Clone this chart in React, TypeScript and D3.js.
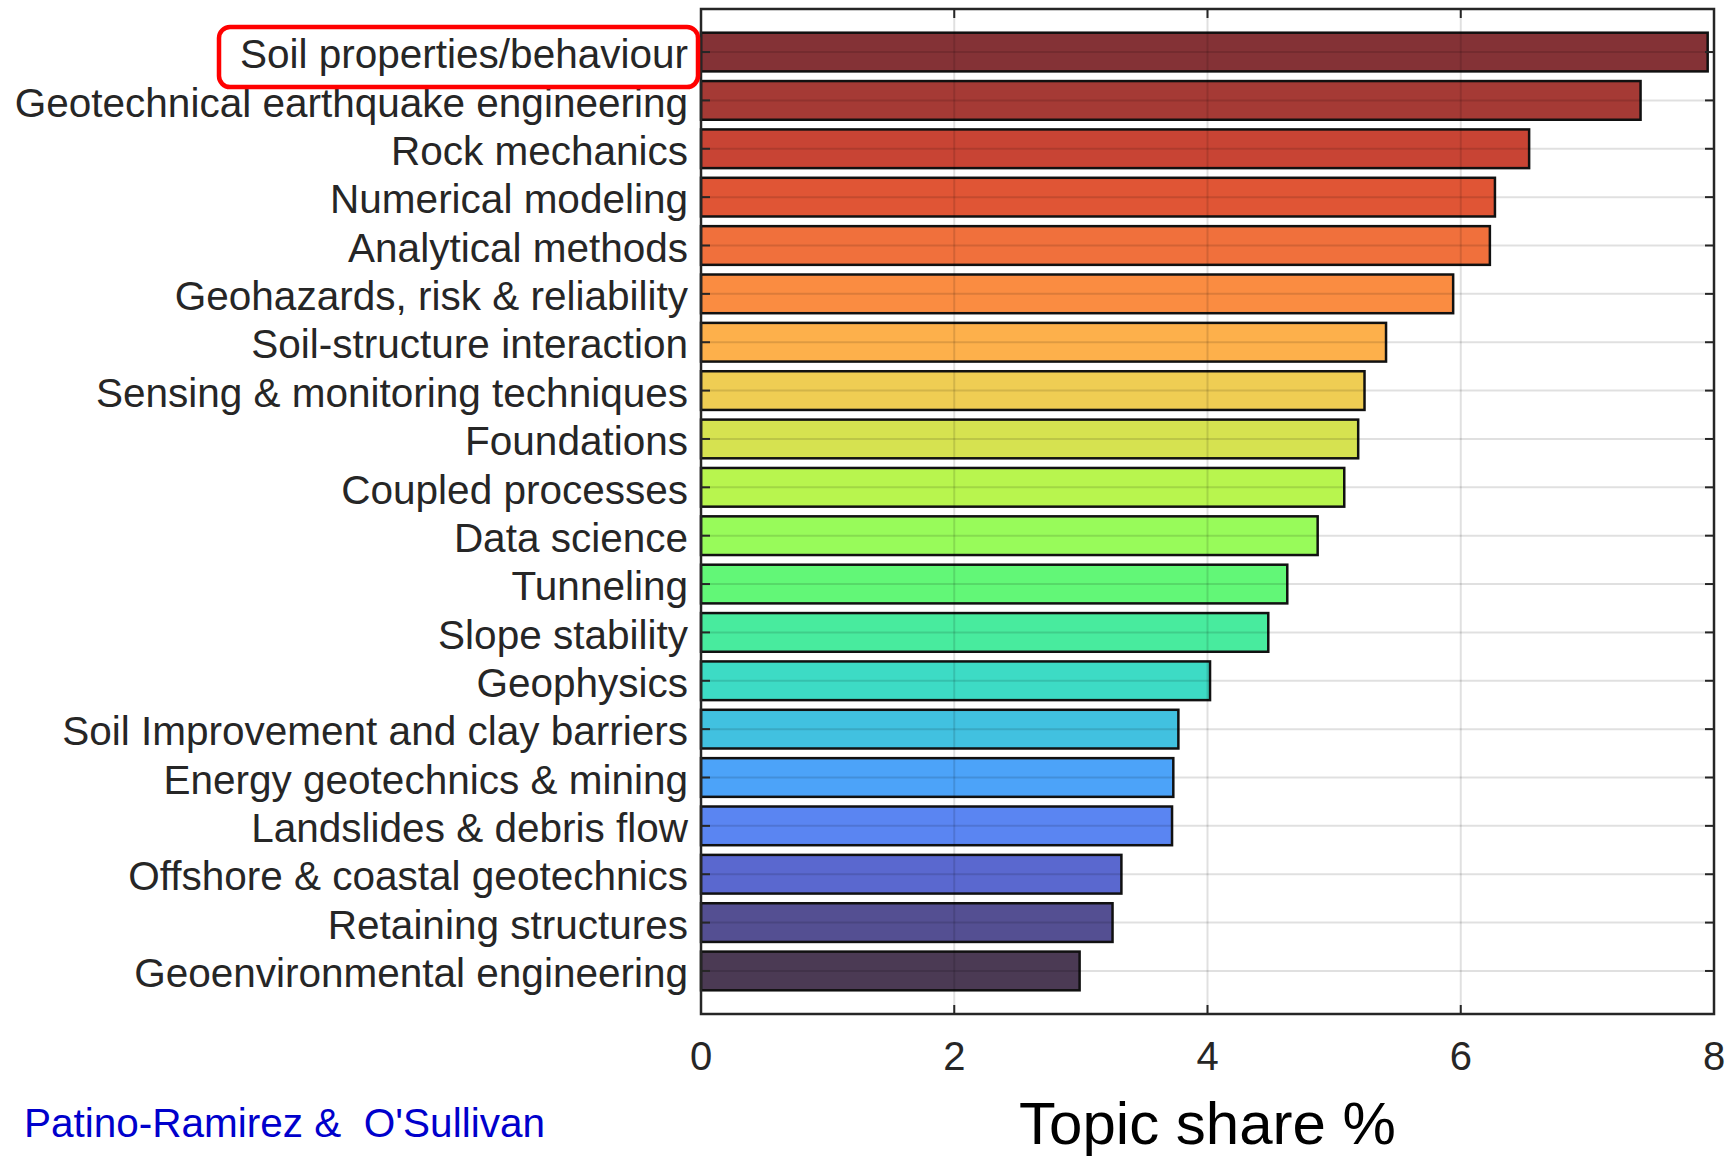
import React from "react";
import * as d3 from "d3";

const categories = [
  "Soil properties/behaviour",
  "Geotechnical earthquake engineering",
  "Rock mechanics",
  "Numerical modeling",
  "Analytical methods",
  "Geohazards, risk & reliability",
  "Soil-structure interaction",
  "Sensing & monitoring techniques",
  "Foundations",
  "Coupled processes",
  "Data science",
  "Tunneling",
  "Slope stability",
  "Geophysics",
  "Soil Improvement and clay barriers",
  "Energy geotechnics & mining",
  "Landslides & debris flow",
  "Offshore & coastal geotechnics",
  "Retaining structures",
  "Geoenvironmental engineering",
];

const shares = [
  7.95, 7.42, 6.54, 6.27, 6.23, 5.94, 5.41, 5.24, 5.19, 5.08, 4.87, 4.63, 4.48,
  4.02, 3.77, 3.73, 3.72, 3.32, 3.25, 2.99,
];

const barColors = [
  "#843236", "#a53a35", "#c84434", "#e05535", "#f0703c", "#fa8c41", "#fdb04b",
  "#efcd53", "#d6e250", "#b8f54e", "#98fb5a", "#62f777", "#48eb9e", "#3ddbc5",
  "#41c1e0", "#4ca3f9", "#5a85f2", "#5a68cf", "#544f92", "#4b3a54",
];

const xTicks = [0, 2, 4, 6, 8];
const xLabel = "Topic share %";
const credit = "Patino-Ramirez &  O'Sullivan";
const highlighted = "Soil properties/behaviour";

const W = 1728;
const H = 1158;
const left = 701;
const right = 1714;
const top = 9;
const bottom = 1014;
const FONT = "'Liberation Sans', Arial, Helvetica, sans-serif";
const TXT = "#262626";

export default function App() {
  const x = d3.scaleLinear().domain([0, 8]).range([left, right]);
  const y = d3
    .scaleBand<string>()
    .domain(categories)
    .range([top, bottom])
    .paddingInner(0.2)
    .paddingOuter(0.49);
  const bw = y.bandwidth();
  const cy = (c: string) => (y(c) as number) + bw / 2;
  const tickLen = 9;
  const hiY = cy(highlighted);

  return (
    <svg
      width={W}
      height={H}
      style={{ position: "absolute", left: 0, top: 0, background: "#fff" }}
      fontFamily={FONT}
    >
      <rect x={0} y={0} width={W} height={H} fill="#fff" />
      {/* bars */}
      {categories.map((c, i) => (
        <rect
          key={c}
          x={x(0)}
          y={y(c)}
          width={x(shares[i]) - x(0)}
          height={bw}
          fill={barColors[i]}
          stroke="#111"
          strokeWidth={2.5}
        />
      ))}
      {/* grid */}
      <g stroke="#000" strokeOpacity={0.12} strokeWidth={2}>
        {xTicks
          .filter((t) => t > 0 && t < 8)
          .map((t) => (
            <line key={t} x1={x(t)} x2={x(t)} y1={top} y2={bottom} />
          ))}
        {categories.map((c) => (
          <line key={c} x1={left} x2={right} y1={cy(c)} y2={cy(c)} />
        ))}
      </g>
      {/* ticks */}
      <g stroke={TXT} strokeWidth={2}>
        {categories.map((c) => (
          <g key={c}>
            <line x1={left} x2={left + tickLen} y1={cy(c)} y2={cy(c)} />
            <line x1={right} x2={right - tickLen} y1={cy(c)} y2={cy(c)} />
          </g>
        ))}
        {xTicks
          .filter((t) => t > 0 && t < 8)
          .map((t) => (
            <g key={t}>
              <line x1={x(t)} x2={x(t)} y1={bottom} y2={bottom - tickLen} />
              <line x1={x(t)} x2={x(t)} y1={top} y2={top + tickLen} />
            </g>
          ))}
      </g>
      {/* frame */}
      <rect
        x={left}
        y={top}
        width={right - left}
        height={bottom - top}
        fill="none"
        stroke={TXT}
        strokeWidth={2.5}
      />
      {/* category labels */}
      {categories.map((c) => (
        <text
          key={c}
          x={688}
          y={cy(c)}
          dy="0.4em"
          textAnchor="end"
          fontSize={40.5}
          fill={TXT}
        >
          {c}
        </text>
      ))}
      {/* highlight box */}
      <rect
        x={219}
        y={hiY - 25}
        width={479}
        height={60}
        rx={11}
        fill="none"
        stroke="#ff0000"
        strokeWidth={4.5}
      />
      {/* x tick labels */}
      {xTicks.map((t) => (
        <text
          key={t}
          x={x(t)}
          y={1070}
          textAnchor="middle"
          fontSize={40}
          fill={TXT}
        >
          {t}
        </text>
      ))}
      <text
        x={(left + right) / 2}
        y={1144}
        textAnchor="middle"
        fontSize={60}
        fill="#000"
      >
        {xLabel}
      </text>
      <text
        x={24}
        y={1137}
        fontSize={40.5}
        fill="#0000cc"
        style={{ whiteSpace: "pre" }}
        xmlSpace="preserve"
      >
        {credit}
      </text>
    </svg>
  );
}
